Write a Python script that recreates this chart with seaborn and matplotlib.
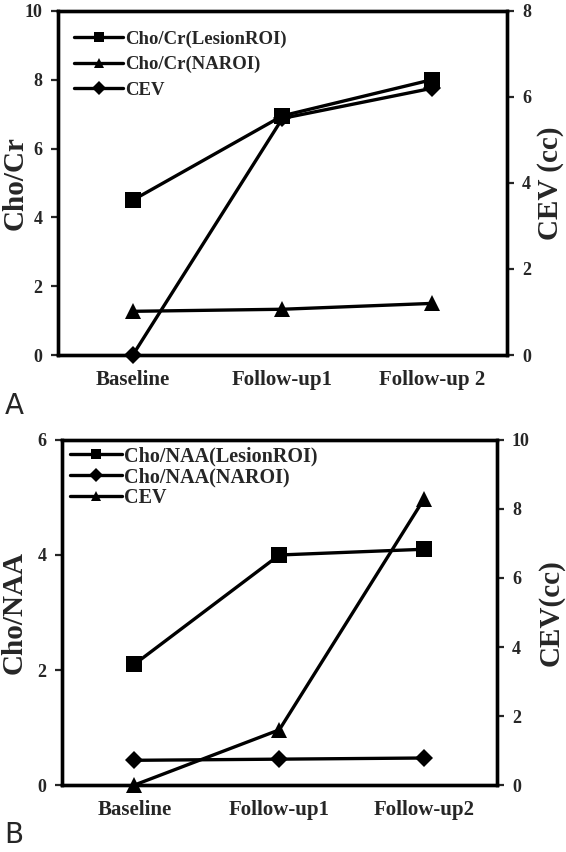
import matplotlib
matplotlib.use("Agg")
import matplotlib.pyplot as plt
import seaborn as sns
import pandas as pd

# data
timepoints_a = ["Baseline", "Follow-up1", "Follow-up 2"]
timepoints_b = ["Baseline", "Follow-up1", "Follow-up2"]

cho_cr_lesion = [4.5, 6.95, 8.0]
cho_cr_na = [1.27, 1.33, 1.5]
cev_a = [0.0, 5.5, 6.2]

cho_naa_lesion = [2.1, 4.0, 4.1]
cho_naa_na = [0.43, 0.45, 0.47]
cev_b = [0.0, 1.6, 8.3]

sns.set_style("ticks")
plt.rcParams["font.family"] = ["Liberation Serif", "DejaVu Serif"]
plt.rcParams["font.weight"] = "bold"

W, H = 566, 852
fig = plt.figure(figsize=(W / 100, H / 100), dpi=100)

LW = 2.4
SPINE = 2.4


def style_axes(ax):
    for s in ax.spines.values():
        s.set_linewidth(SPINE)
        s.set_color("black")
        s.set_visible(True)
    ax.tick_params(axis="y", direction="out", length=5, width=1.6,
                   labelsize=13, pad=6)
    ax.tick_params(axis="x", length=0, labelsize=15, pad=11)


def panel(rect, cats, s1, s2, s3, lab1, lab2, lab3, m1, m2, m3,
          ylim1, yt1, ylim2, yt2, ylab1, ylab2, lab_px, legend_xy,
          legend_space, legend_size):
    ax = fig.add_axes(rect)
    ax2 = ax.twinx()
    df = pd.DataFrame({"x": range(len(cats)), "s1": s1, "s2": s2, "s3": s3})
    sns.lineplot(data=df, x="x", y="s1", ax=ax, color="black", lw=LW,
                 marker=m1[0], markersize=m1[1], markeredgewidth=0,
                 label=lab1, clip_on=False)
    sns.lineplot(data=df, x="x", y="s2", ax=ax, color="black", lw=LW,
                 marker=m2[0], markersize=m2[1], markeredgewidth=0,
                 label=lab2, clip_on=False)
    sns.lineplot(data=df, x="x", y="s3", ax=ax2, color="black", lw=LW,
                 marker=m3[0], markersize=m3[1], markeredgewidth=0,
                 label=lab3, clip_on=False)
    ax.set_xlim(-0.5, len(cats) - 0.5)
    ax.set_ylim(*ylim1)
    ax.set_yticks(yt1)
    ax2.set_ylim(*ylim2)
    ax2.set_yticks(yt2)
    ax.set_xticks(range(len(cats)))
    ax.set_xticklabels(cats)
    ax.set_xlabel("")
    ax.set_ylabel("")
    ax2.set_ylabel("")
    style_axes(ax)
    style_axes(ax2)

    # axis titles placed by pixel centre, as in the reference
    yc = rect[1] + rect[3] / 2
    fig.text(lab_px[0] / W, yc, ylab1, rotation=90, fontsize=21,
             fontweight="bold", ha="center", va="center")
    fig.text(lab_px[1] / W, yc, ylab2, rotation=90, fontsize=21,
             fontweight="bold", ha="center", va="center")

    h1, l1 = ax.get_legend_handles_labels()
    h2, l2 = ax2.get_legend_handles_labels()
    ax2.get_legend().remove()
    ax.get_legend().remove()
    leg = ax.legend(h1 + h2, l1 + l2, loc="upper left",
                    bbox_to_anchor=legend_xy, frameon=False,
                    handlelength=2.6, handletextpad=0.1,
                    labelspacing=legend_space, borderaxespad=0,
                    prop={"family": "Liberation Serif", "weight": "bold",
                          "size": legend_size})
    for h in leg.legend_handles:
        h.set_markersize(7)
    return ax, ax2


# panel A
axA, axA2 = panel([0.1025, 0.5833, 0.793, 0.404], timepoints_a,
                  cho_cr_lesion, cho_cr_na, cev_a,
                  "Cho/Cr(LesionROI)", "Cho/Cr(NAROI)", "CEV",
                  ("s", 12), ("^", 12), ("D", 9),
                  (0, 10), [0, 2, 4, 6, 8, 10], (0, 8), [0, 2, 4, 6, 8],
                  "Cho/Cr", "CEV (cc)", (15, 551), (0.02, 0.965), 0.45, 13.5)

# panel B
axB, axB2 = panel([0.1095, 0.0786, 0.768, 0.405], timepoints_b,
                  cho_naa_lesion, cho_naa_na, cev_b,
                  "Cho/NAA(LesionROI)", "Cho/NAA(NAROI)", "CEV",
                  ("s", 12), ("D", 9), ("^", 12),
                  (0, 6), [0, 2, 4, 6], (0, 10), [0, 2, 4, 6, 8, 10],
                  "Cho/NAA", "CEV(cc)", (14, 551), (0.0, 1.005), 0.05, 14.5)

fig.text(0.008, 0.523, "A", fontsize=20, fontweight="normal",
         family="DejaVu Sans", va="center")
fig.text(0.008, 0.02, "B", fontsize=20, fontweight="normal",
         family="DejaVu Sans", va="center")

# make sure every tick label ends up bold serif
fig.canvas.draw()
for a in (axA, axA2, axB, axB2):
    for lab in a.get_xticklabels() + a.get_yticklabels():
        lab.set_fontweight("bold")
        lab.set_fontfamily("Liberation Serif")

fig.savefig("out.png", dpi=100)
